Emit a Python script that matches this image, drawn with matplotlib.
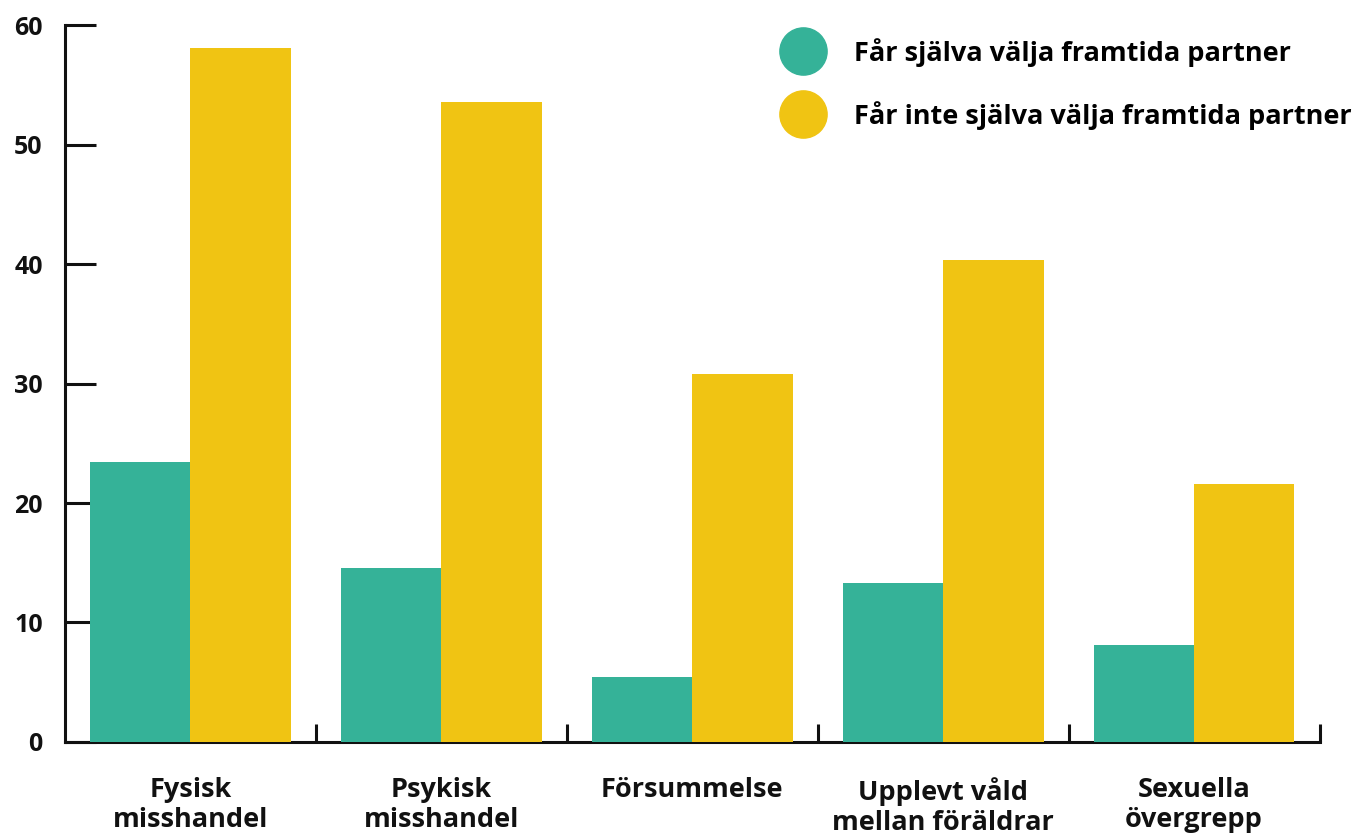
import matplotlib.pyplot as plt
import numpy as np
from matplotlib.lines import Line2D

plt.rcParams['font.family'] = ['Open Sans', 'DejaVu Sans']
plt.rcParams['font.weight'] = 'bold'

categories = ['Fysisk\nmisshandel', 'Psykisk\nmisshandel', 'Försummelse',
              'Upplevt våld\nmellan föräldrar', 'Sexuella\növergrepp']
series_names = ['Får själva välja framtida partner',
                'Får inte själva välja framtida partner']
choose_self = [23.4, 14.6, 5.4, 13.3, 8.1]
not_choose_self = [58.1, 53.6, 30.8, 40.3, 21.6]
yticks = [0, 10, 20, 30, 40, 50, 60]

teal = '#35B298'
yellow = '#F0C413'

fig = plt.figure(figsize=(13.52, 8.35), dpi=100)
ax = fig.add_axes([0.048, 0.1114, 0.928, 0.8586])

x = np.arange(len(categories))
w = 0.4
ax.bar(x - w / 2, choose_self, w, color=teal, zorder=3)
ax.bar(x + w / 2, not_choose_self, w, color=yellow, zorder=3)

ax.set_xlim(-0.5, len(categories) - 0.5)
ax.set_ylim(0, 60)

for s in ['top', 'right']:
    ax.spines[s].set_visible(False)
for s in ['left', 'bottom']:
    ax.spines[s].set_linewidth(2.2)
    ax.spines[s].set_color('#111111')

ax.set_yticks(yticks)
ax.tick_params(axis='y', direction='in', length=22, width=2.2, pad=16,
               labelsize=18, colors='#111111')
ax.set_xticks(x)
ax.set_xticklabels(categories)
ax.tick_params(axis='x', which='major', length=0, pad=25, labelsize=19.5)
ax.set_xticks(np.arange(len(categories)) + 0.5, minor=True)
ax.tick_params(axis='x', which='minor', direction='in', length=13, width=2.2,
               color='#111111')
for lbl in ax.get_xticklabels() + ax.get_yticklabels():
    lbl.set_fontweight('bold')
    lbl.set_color('#111111')
for lbl in ax.get_xticklabels():
    lbl.set_linespacing(1.2)

handles = [Line2D([], [], marker='o', linestyle='none', markersize=34,
                  markerfacecolor=c, markeredgecolor=c) for c in (teal, yellow)]
ax.legend(handles, series_names, loc='upper right', bbox_to_anchor=(1.045, 1.016),
          frameon=False, handletextpad=0.9, labelspacing=1.25,
          prop={'weight': 'bold', 'size': 19.5})

fig.savefig('out.png', dpi=100)
